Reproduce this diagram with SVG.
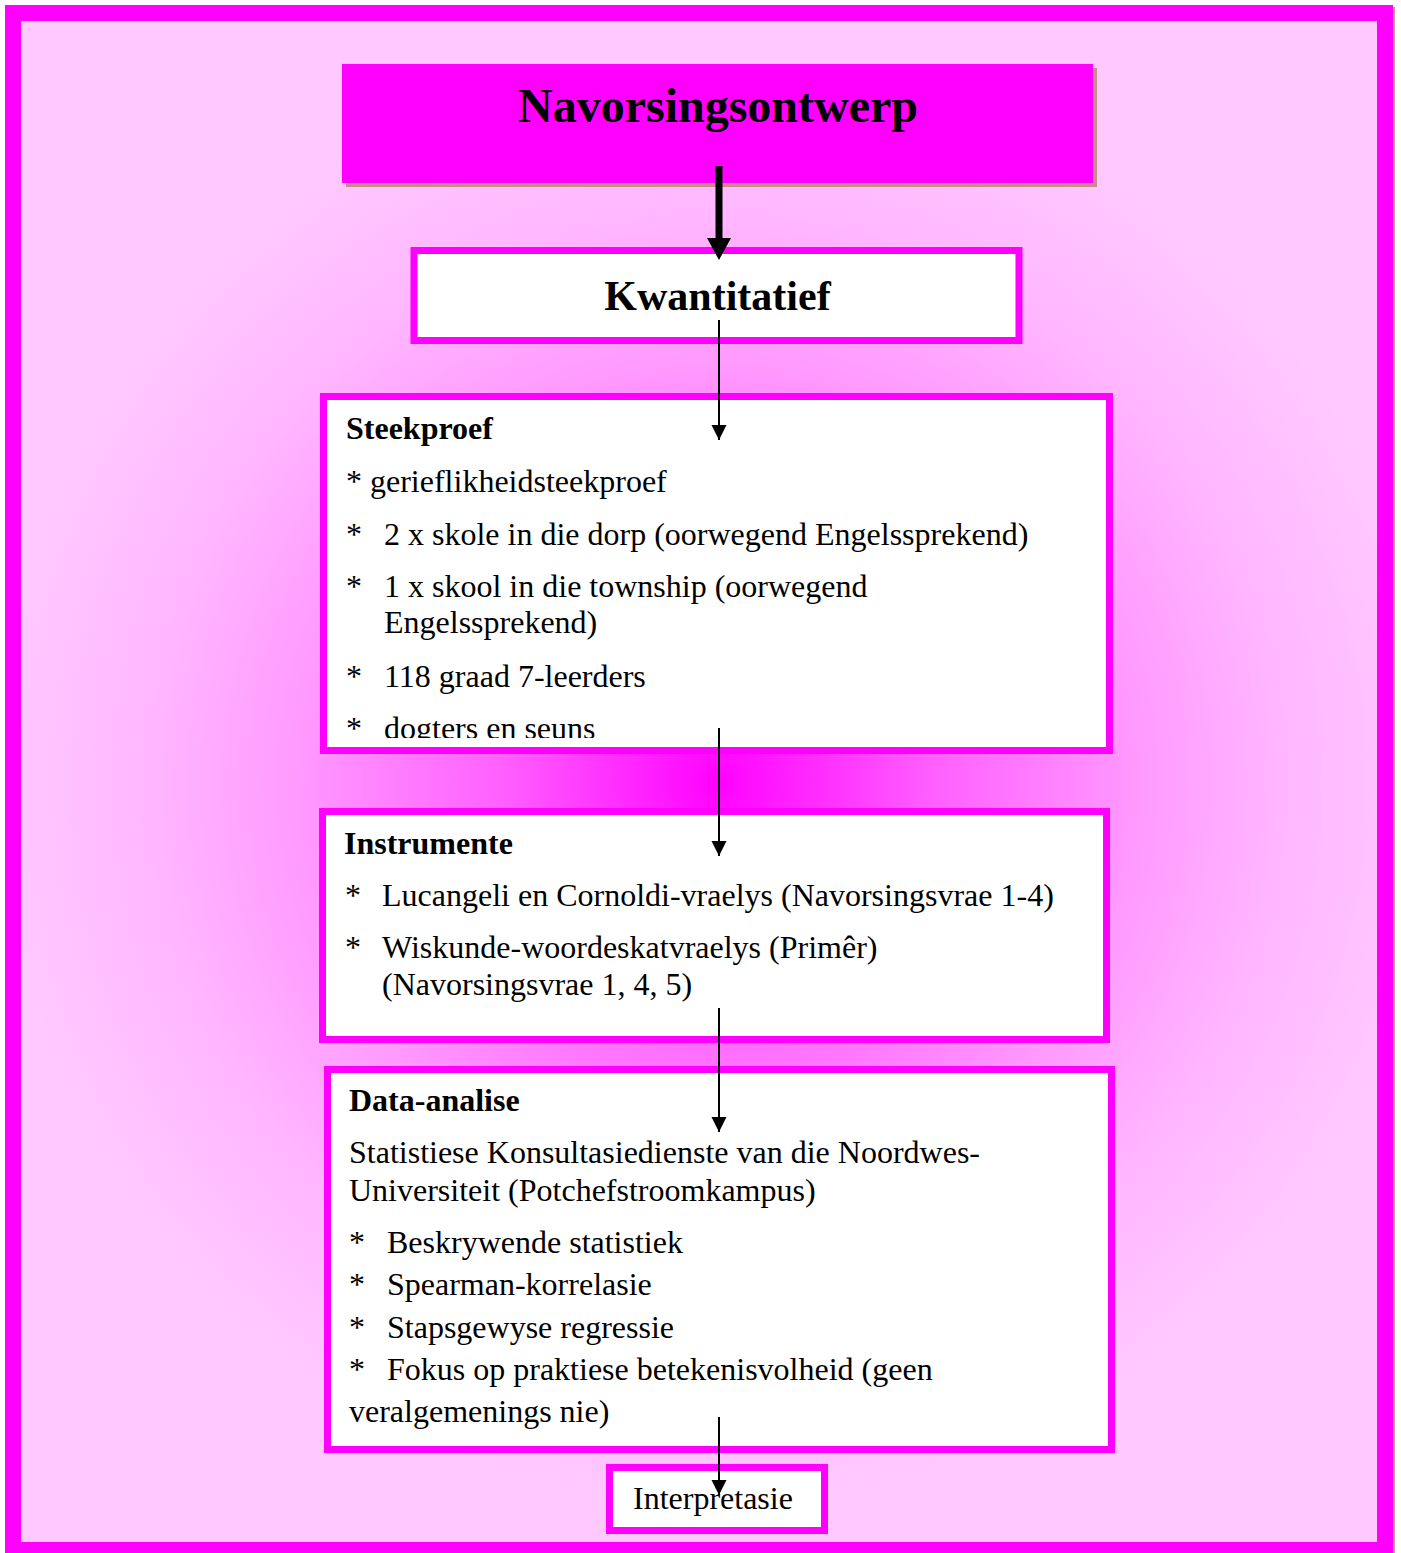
<svg xmlns="http://www.w3.org/2000/svg" width="1401" height="1553" viewBox="0 0 1401 1553">
  <style>
    .t { font-family: "Liberation Serif", "Times New Roman", serif; fill: #000; }
    .b { font-weight: bold; }
    .body { font-size: 32px; }
    .box { fill: #FFFFFF; stroke: #FF00FF; stroke-width: 7; }
    .conn { stroke: #000; stroke-width: 2; fill: none; }
  </style>
  <defs>
    <radialGradient id="bg" gradientUnits="userSpaceOnUse" cx="718" cy="783" r="720">
      <stop offset="0" stop-color="#FF00FF"/>
      <stop offset="0.3" stop-color="#FF60FF"/>
      <stop offset="0.58" stop-color="#FF99FF"/>
      <stop offset="0.8" stop-color="#FFB8FF"/>
      <stop offset="1" stop-color="#FFC8FF"/>
    </radialGradient>
    <marker id="ah" markerUnits="userSpaceOnUse" markerWidth="16" markerHeight="16" refX="15" refY="7.5" orient="auto">
      <path d="M0,0 L15,7.5 L0,15 Z" fill="#000"/>
    </marker>
    <clipPath id="clipS">
      <rect x="327" y="400" width="778" height="338"/>
    </clipPath>
  </defs>

  <rect x="0" y="0" width="1401" height="1553" fill="#FFFFFF"/>

  <g id="frame">
    <rect x="15" y="15" width="1372" height="1537" fill="none" stroke="#CC9988" stroke-width="16"/>
    <rect x="13" y="13" width="1372" height="1537" fill="url(#bg)" stroke="#FF00FF" stroke-width="16"/>
  </g>

  <g id="navorsingsontwerp">
    <rect x="346" y="68" width="751" height="119" fill="#C98A8A"/>
    <rect x="342" y="64" width="751" height="119" fill="#FF00FF"/>
    <text class="t b" x="718" y="122" font-size="48" text-anchor="middle">Navorsingsontwerp</text>
  </g>

  <g id="kwantitatief">
    <rect class="box" x="414" y="250.5" width="605" height="90" stroke-width="6"/>
    <text class="t b" x="717.5" y="310" font-size="42" text-anchor="middle">Kwantitatief</text>
  </g>

  <g id="steekproef">
    <rect class="box" x="323.5" y="396.5" width="786" height="354"/>
    <g clip-path="url(#clipS)">
      <text class="t b body" x="346" y="439">Steekproef</text>
      <text class="t body" x="346" y="492">* gerieflikheidsteekproef</text>
      <text class="t body" x="346" y="545">*</text>
      <text class="t body" x="384" y="545">2 x skole in die dorp (oorwegend Engelssprekend)</text>
      <text class="t body" x="346" y="597">*</text>
      <text class="t body" x="384" y="597">1 x skool in die township (oorwegend</text>
      <text class="t body" x="384" y="633">Engelssprekend)</text>
      <text class="t body" x="346" y="687">*</text>
      <text class="t body" x="384" y="687">118 graad 7-leerders</text>
      <text class="t body" x="346" y="739">*</text>
      <text class="t body" x="384" y="739">dogters en seuns</text>
    </g>
  </g>

  <g id="instrumente">
    <rect class="box" x="322.5" y="811.5" width="784" height="228"/>
    <text class="t b body" x="344" y="854">Instrumente</text>
    <text class="t body" x="345" y="906">*</text>
    <text class="t body" x="382" y="906">Lucangeli en Cornoldi-vraelys (Navorsingsvrae 1-4)</text>
    <text class="t body" x="345" y="958">*</text>
    <text class="t body" x="382" y="958">Wiskunde-woordeskatvraelys (Primêr)</text>
    <text class="t body" x="382" y="995">(Navorsingsvrae 1, 4, 5)</text>
  </g>

  <g id="data-analise">
    <rect class="box" x="327.5" y="1069.5" width="784" height="380"/>
    <text class="t b body" x="349" y="1111">Data-analise</text>
    <text class="t body" x="349" y="1163">Statistiese Konsultasiedienste van die Noordwes-</text>
    <text class="t body" x="349" y="1201">Universiteit (Potchefstroomkampus)</text>
    <text class="t body" x="349" y="1253">*</text>
    <text class="t body" x="387" y="1253">Beskrywende statistiek</text>
    <text class="t body" x="349" y="1295">*</text>
    <text class="t body" x="387" y="1295">Spearman-korrelasie</text>
    <text class="t body" x="349" y="1338">*</text>
    <text class="t body" x="387" y="1338">Stapsgewyse regressie</text>
    <text class="t body" x="349" y="1380">*</text>
    <text class="t body" x="387" y="1380">Fokus op praktiese betekenisvolheid (geen</text>
    <text class="t body" x="349" y="1422">veralgemenings nie)</text>
  </g>

  <g id="interpretasie">
    <rect class="box" x="609.5" y="1467.5" width="215" height="63"/>
    <text class="t body" x="633" y="1509">Interpretasie</text>
  </g>

  <g id="connectors">
    <line x1="719" y1="166" x2="719" y2="240" stroke="#000" stroke-width="7"/>
    <path d="M707,238 L731,238 L719,260 Z" fill="#000"/>
    <line class="conn" x1="719" y1="320" x2="719" y2="440" marker-end="url(#ah)"/>
    <line class="conn" x1="719" y1="728" x2="719" y2="856" marker-end="url(#ah)"/>
    <line class="conn" x1="719" y1="1008" x2="719" y2="1132" marker-end="url(#ah)"/>
    <line class="conn" x1="719" y1="1417" x2="719" y2="1495" marker-end="url(#ah)"/>
  </g>
</svg>
